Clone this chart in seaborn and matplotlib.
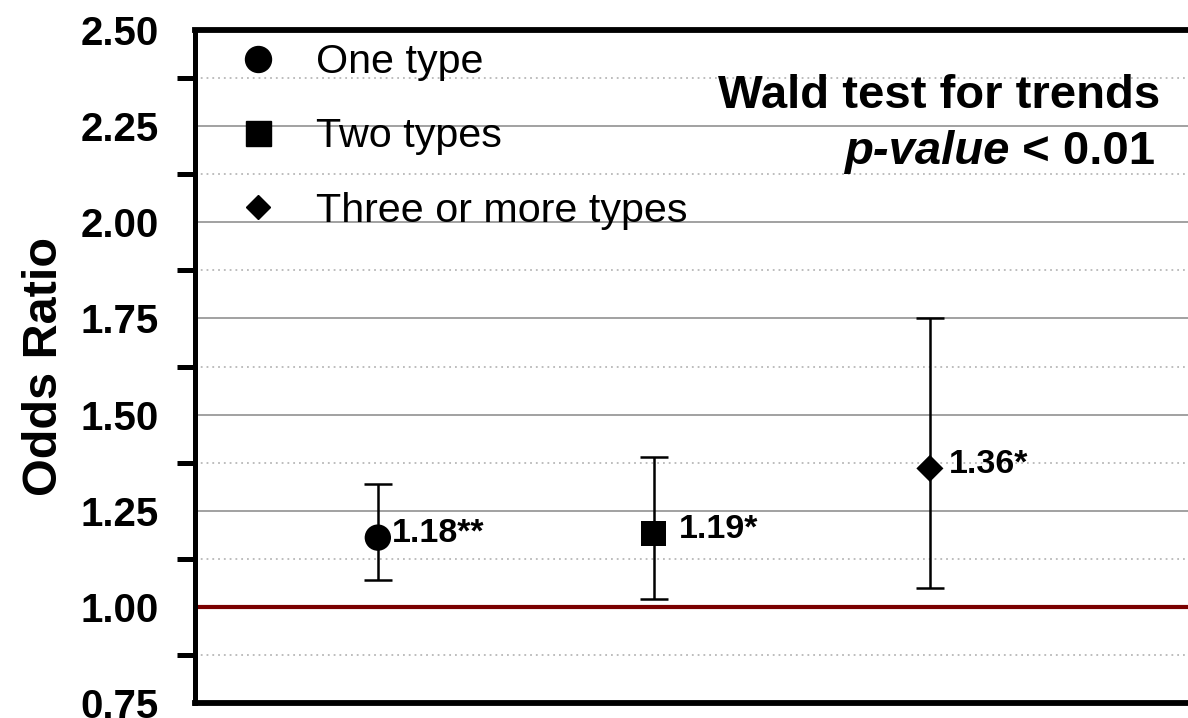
"""Odds ratio by number of types, GraphPad-like styling."""

import matplotlib

matplotlib.use("Agg")
import matplotlib.pyplot as plt
from matplotlib.lines import Line2D
import numpy as np
import pandas as pd
import seaborn as sns

groups = ["One type", "Two types", "Three or more types"]
odds_ratio = [1.18, 1.19, 1.36]
ci_low = [1.07, 1.02, 1.05]
ci_high = [1.32, 1.39, 1.75]
value_labels = ["1.18**", "1.19*", "1.36*"]
y_ticks = [0.75, 1.00, 1.25, 1.50, 1.75, 2.00, 2.25, 2.50]
trend_title = "Wald test for trends"
trend_pvalue = ("p-value", " < 0.01")

sns.set_style("white")
plt.rcParams["font.family"] = ["Liberation Sans", "DejaVu Sans"]
for key in ["text.color", "axes.labelcolor", "xtick.color", "ytick.color"]:
    plt.rcParams[key] = "black"

df = pd.DataFrame({"group": groups, "or": odds_ratio, "lo": ci_low, "hi": ci_high})

markers = {"One type": "o", "Two types": "s", "Three or more types": "D"}
sizes = {"One type": 360, "Two types": 330, "Three or more types": 190}

fig = plt.figure(figsize=(11.88, 7.18), dpi=100)
ax = fig.add_axes([0.164, 0.021, 0.836, 0.937])

# grid: major solid grey, minor dotted
for y in np.arange(0.75, 2.51, 0.25):
    if abs(y - 1.0) > 1e-6:
        ax.axhline(y, color="#9a9a9a", lw=1.3, zorder=0)
for y in np.arange(0.875, 2.5, 0.25):
    ax.axhline(y, color="#b8b8b8", lw=1.3, ls=(0, (1, 2.2)), zorder=0)
ax.axhline(1.0, color="#7a0000", lw=3.0, zorder=1)

x_pos = np.arange(len(groups))
ax.errorbar(x_pos, df["or"], yerr=[df["or"] - df["lo"], df["hi"] - df["or"]],
            fmt="none", ecolor="black", elinewidth=1.8, capsize=10, capthick=1.8, zorder=2)
sns.scatterplot(data=df, x="group", y="or", style="group", markers=markers,
                size="group", sizes=sizes, color="black", edgecolor="black",
                linewidth=0, legend=False, ax=ax, zorder=3)

label_dx = [10, 18, 14]
for i, (val, lab) in enumerate(zip(odds_ratio, value_labels)):
    ax.annotate(lab, xy=(i, val), xytext=(label_dx[i], 3), textcoords="offset points",
                ha="left", va="center", fontsize=24.5, fontweight="bold")

ax.set_xlim(-0.663, 2.935)
ax.set_ylim(0.75, 2.5)
ax.set_xticks([])
ax.set_xlabel("")
ax.set_yticks(y_ticks)
ax.set_yticklabels([f"{t:.2f}" for t in y_ticks], fontsize=29, fontweight="bold")
ax.set_yticks(np.arange(0.875, 2.5, 0.25), minor=True)
ax.tick_params(axis="y", which="major", length=19, width=3.6, pad=7)
ax.tick_params(axis="y", which="minor", length=13, width=3.6, left=True)
ax.set_ylabel("Odds Ratio", fontsize=35, fontweight="bold", labelpad=10)

ax.spines["right"].set_visible(False)
ax.spines["left"].set_linewidth(3.6)
ax.spines["top"].set_linewidth(4.2)
ax.spines["bottom"].set_linewidth(4.2)
for s in ["left", "top", "bottom"]:
    ax.spines[s].set_color("black")
    ax.spines[s].set_zorder(5)

handles = [
    Line2D([], [], ls="none", marker="o", color="black", markersize=18.7),
    Line2D([], [], ls="none", marker="s", color="black", markersize=18),
    Line2D([], [], ls="none", marker="D", color="black", markersize=12.5),
]
leg = ax.legend(handles, groups, loc="upper left", bbox_to_anchor=(0.010, 1.03),
                frameon=False, fontsize=29.7, handlelength=1.0, handletextpad=0.9,
                labelspacing=0.88, borderaxespad=0.4)
leg.set_zorder(6)

t1 = ax.text(0.972, 0.884, trend_title, transform=ax.transAxes, ha="right",
             va="baseline", fontsize=34, fontweight="bold")
t2 = ax.text(0.967, 0.801, trend_pvalue[1], transform=ax.transAxes, ha="right",
             va="baseline", fontsize=34, fontweight="bold")
ax.annotate(trend_pvalue[0], xy=(0, 0), xycoords=t2, ha="right", va="bottom",
            fontsize=34, fontweight="bold", fontstyle="italic")

fig.savefig("out.png", dpi=100)
